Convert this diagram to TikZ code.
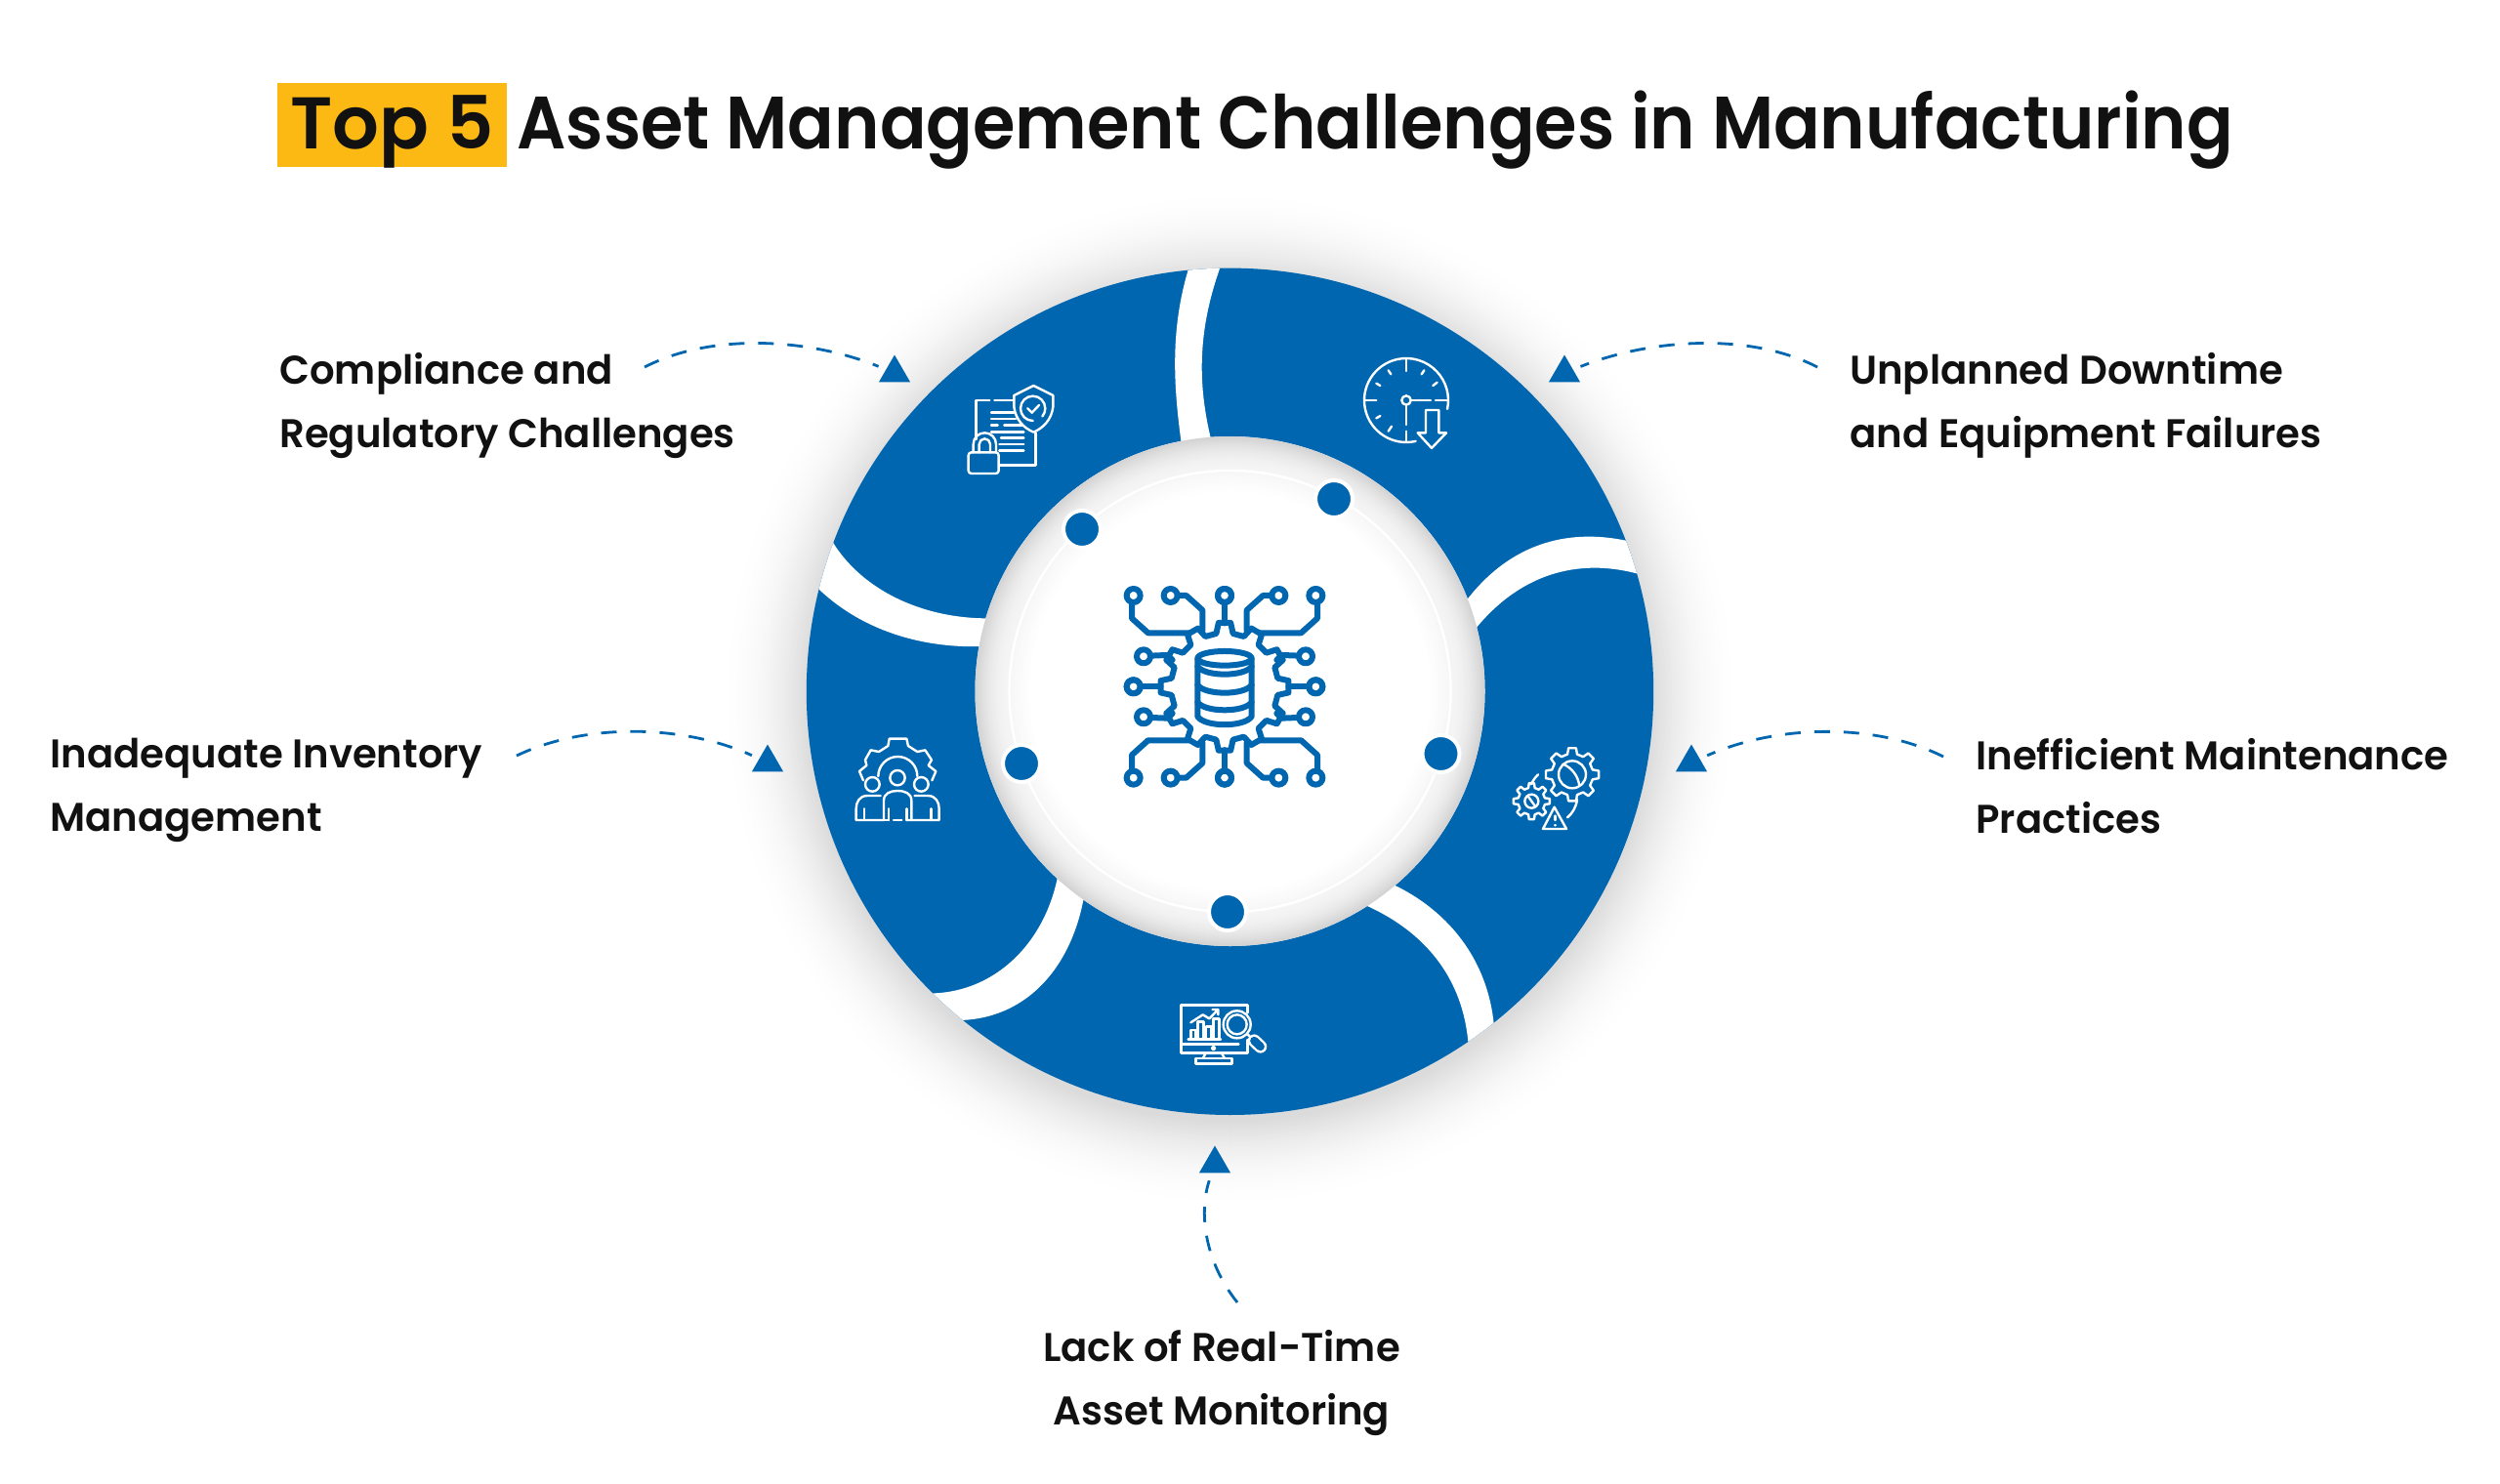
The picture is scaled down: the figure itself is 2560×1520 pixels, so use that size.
\documentclass[tikz,border=0pt]{standalone}
\usepackage{fontspec}
\usetikzlibrary{shapes.geometric,calc}
\setmainfont{Poppins}
\newfontfamily\titlefont{Poppins}[UprightFont=* SemiBold,FakeStretch=0.925]
\newfontfamily\tagfont{Poppins}[UprightFont=* SemiBold]
\newfontfamily\labelfont{Poppins}[UprightFont=* SemiBold,FakeStretch=0.98]
\definecolor{ringblue}{HTML}{0066AF}
\definecolor{tagyellow}{HTML}{FDB913}
\definecolor{inkblack}{HTML}{111111}
\tikzset{
  labeltext/.style={font=\labelfont\fontsize{20.5}{32.5}\selectfont,text=inkblack,inner sep=0pt,align=left},
  titletext/.style={font=\titlefont\fontsize{38}{46}\selectfont,text=inkblack,inner sep=0pt},
  tagtext/.style={font=\tagfont\fontsize{37.5}{46}\selectfont,text=inkblack,inner sep=0pt},
  tipmark/.style={regular polygon,regular polygon sides=3,fill=ringblue,minimum size=18.5pt,inner sep=0pt},
  dashline/.style={draw=ringblue,line width=1.4pt,dash pattern=on 8pt off 7pt,shorten >=4pt},
  rimdot/.style={circle,fill=ringblue,draw=white,line width=2pt,minimum size=19pt,inner sep=0pt},
  iconline/.style={draw=white,line width=1.2pt,line cap=round,line join=round},
  chipline/.style={draw=ringblue,line width=3pt,line cap=round,line join=round},
  swirl/.style={fill=white,draw=none},
}
% gear outline: centre x,y; outer, inner radius; teeth; style
\newcommand{\geartrace}[6]{%
  \begin{scope}[shift={(#1,#2)}]
    \pgfmathsetmacro{\gstep}{360/#5}
    \pgfmathtruncatemacro{\glast}{#5-1}
    \draw[#6] (-0.3*\gstep:#4)
      foreach \gi in {0,...,\glast} {
        -- ({\gi*\gstep-0.18*\gstep}:#3) -- ({\gi*\gstep+0.18*\gstep}:#3)
        -- ({\gi*\gstep+0.3*\gstep}:#4) -- ({\gi*\gstep+0.7*\gstep}:#4)
      } -- cycle;
  \end{scope}}
\begin{document}
\begin{tikzpicture}[x=0.5pt,y=-0.5pt]
\useasboundingbox (0,0) rectangle (2560,1520);
\fill[white] (0,0) rectangle (2560,1520);

% title
\fill[tagyellow] (284,85) rectangle (519,171);
\node[tagtext,anchor=base west] (toptag) at (297,153) {Top 5};
\node[titletext,anchor=base west] (titlerest) at (529,153) {Asset Management Challenges in Manufacturing};

% outer shadow
\foreach \rr in {90,88,...,0} {
  \pgfmathsetmacro{\shade}{14*(1-\rr/90)*(1-\rr/90)}
  \fill[black!\shade!white] (1259.5,716) circle ({433+\rr});
}
% ring
\fill[ringblue] (1259.5,708.3) circle (433.7);

% white swirls, in the coordinates of the ring crop
\begin{scope}
\clip (1259.5,708.3) circle (433.7);
\begin{scope}[shift={(800,250)},scale=0.5867]
\fill[swirl] (700,360) .. controls (686,260) and (675,150) .. (715,30) -- (770,30)
   .. controls (725,150) and (725,250) .. (755,360) -- cycle;
\fill[swirl] (1190,630) .. controls (1270,520) and (1380,490) .. (1500,524) -- (1510,580)
   .. controls (1400,545) and (1290,570) .. (1205,680) -- cycle;
\fill[swirl] (1050,1110) .. controls (1170,1160) and (1240,1260) .. (1245,1380) -- (1200,1410)
   .. controls (1195,1290) and (1130,1200) .. (1010,1150) -- cycle;
\fill[swirl] (485,1090) .. controls (465,1220) and (370,1312) .. (250,1308) -- (300,1355)
   .. controls (420,1358) and (508,1270) .. (530,1130) -- cycle;
\fill[swirl] (85,512) .. controls (140,610) and (260,658) .. (375,653) -- (360,702)
   .. controls (240,708) and (130,670) .. (55,592) -- cycle;
\end{scope}
\end{scope}

% inner disc with soft edge
\fill[white] (1259.5,708) circle (261);
\foreach \rr in {34,32,...,0} {
  \pgfmathsetmacro{\shade}{4+13*(\rr/34)*(\rr/34)}
  \fill[black!\shade!white] (1259.5,708) circle ({261-34+\rr});
}
\fill[black!3!white] (1259.5,708) circle (225);
\foreach \rr in {20,18,...,0} {
  \pgfmathsetmacro{\shade}{3*(\rr/20)}
  \fill[black!\shade!white] (1259.5,708) circle ({205+\rr});
}
\draw[white,line width=1.2pt] (1259.5,708) circle (226);

% rim dots
\node[rimdot] (dotA) at (1366,511) {};
\node[rimdot] (dotB) at (1108,542) {};
\node[rimdot] (dotC) at (1046,782) {};
\node[rimdot] (dotD) at (1257,934) {};
\node[rimdot] (dotE) at (1475.5,772) {};

% centre chip icon
\begin{scope}[shift={(1254,703.3)},scale=1/3]
 \foreach \sx/\sy in {1/1,-1/1,1/-1,-1/-1} {
  \begin{scope}[xscale=\sx,yscale=\sy]
   \draw[chipline] (110,-165) -- (235,-165) -- (285,-210) -- (285,-258);
   \draw[chipline] (280,-280) circle (21);
   \draw[chipline] (68,-172) -- (68,-235) -- (118,-280) -- (145,-280);
   \draw[chipline] (166,-280) circle (21);
   \draw[chipline] (160,-82) -- (175,-97) -- (228,-95);
   \draw[chipline] (249,-93) circle (21);
   \draw[chipline] (0,-195) -- (0,-258);
   \draw[chipline] (0,-280) circle (21);
   \draw[chipline] (197,0) -- (258,0);
   \draw[chipline] (280,0) circle (21);
  \end{scope}
 }
 \geartrace{0}{0}{197}{165}{12}{chipline}
 % database
 \draw[chipline] (0,-87) ellipse (83 and 22);
 \draw[chipline] (-83,-87) -- (-83,92) .. controls (-60,125) and (60,125) .. (83,92) -- (83,-87);
 \draw[chipline] (-83,-62) .. controls (-60,-30) and (60,-30) .. (83,-62);
 \draw[chipline] (-83,-5) .. controls (-60,27) and (60,27) .. (83,-5);
 \draw[chipline] (-83,48) .. controls (-60,80) and (60,80) .. (83,48);
\end{scope}

% compliance icon
\begin{scope}[shift={(960,360)},scale=1/3]
 \draw[iconline] (160,150) -- (118,150) -- (118,270);
 \draw[iconline] (175,150) -- (235,150);
 \draw[iconline] (302,250) -- (302,350) -- (190,350);
 \draw[iconline] (165,188) -- (235,188);
 \draw[iconline] (165,207) -- (240,207);
 \draw[iconline] (165,227) -- (185,227) (205,227) -- (260,227);
 \draw[iconline] (165,247) -- (265,247);
 \draw[iconline] (195,266) -- (265,266);
 \draw[iconline] (190,285) -- (265,285);
 \draw[iconline] (190,305) -- (265,305);
 \draw[iconline] (295,105) -- (355,135) -- (355,170) .. controls (350,210) and (325,235) .. (295,248)
    .. controls (265,235) and (240,210) .. (235,170) -- (235,135) -- cycle;
 \draw[iconline] (293,213) arc (90:400:38);
 \draw[iconline] (277,175) -- (290,188) -- (312,165);
 \draw[iconline,rounded corners=1.5pt] (95,310) rectangle (188,375);
 \draw[iconline] (110,310) -- (110,285) arc (180:360:35) -- (180,310);
 \draw[iconline] (128,310) -- (128,285) arc (180:360:17) -- (162,310);
\end{scope}

% clock icon
\begin{scope}[shift={(1380,340)},scale=1/3]
 \draw[iconline] (180,210) ++(77:129) arc (77:372:129);
 \draw[iconline] (180,85) -- (180,120) (52,210) -- (88,210) (270,210) -- (305,210) (180,305) -- (180,335);
 \draw[iconline] (125,118) -- (133,130) (235,118) -- (227,130) (88,158) -- (100,165)
    (275,155) -- (262,165) (88,265) -- (100,258) (125,305) -- (135,290);
 \draw[iconline] (180,210) circle (14);
 \draw[iconline] (195,210) -- (255,210) (180,225) -- (180,285);
 \draw[iconline] (240,240) -- (280,240) -- (280,310) -- (303,310) -- (258,357) -- (215,310) -- (240,310) -- cycle;
\end{scope}

% maintenance icon
\begin{scope}[shift={(1530,750)},scale=1/3]
 \geartrace{240}{130}{82}{64}{8}{iconline}
 \draw[iconline] (240,130) circle (42);
 \draw[iconline] (212,98) .. controls (240,110) and (258,135) .. (262,165);
 \geartrace{115}{212}{56}{42}{8}{iconline}
 \draw[iconline] (115,212) circle (21);
 \draw[iconline] (105,198) -- (125,226);
 \draw[iconline] (135,130) .. controls (125,140) and (118,150) .. (114,160);
 \draw[iconline] (225,262) .. controls (240,250) and (252,230) .. (255,207);
 \draw[iconline] (185,230) -- (222,297) -- (150,297) -- cycle;
 \draw[iconline] (187,257) -- (187,270) (187,285) -- (187,286);
\end{scope}

% monitoring icon
\begin{scope}[shift={(1190,1010)},scale=1/3]
 \draw[iconline] (262,82) -- (262,58) -- (58,58) -- (58,205) -- (262,205) -- (262,165);
 \draw[iconline] (58,178) -- (235,178);
 \draw[iconline] (158,191) circle (5);
 \draw[iconline] (135,205) -- (125,222) (182,205) -- (192,222);
 \draw[iconline] (103,222) rectangle (215,238);
 \draw[iconline] (88,160) -- (88,135) -- (103,135) -- (103,160);
 \draw[iconline] (110,160) -- (110,110) -- (128,110) -- (128,160);
 \draw[iconline] (135,160) -- (135,125) -- (152,125) -- (152,160);
 \draw[iconline] (158,160) -- (158,100) -- (175,100) -- (175,160);
 \draw[iconline] (80,163) -- (180,163);
 \draw[iconline] (88,112) -- (125,88) -- (145,100) -- (172,72) (155,72) -- (172,72) -- (172,88);
 \draw[iconline] (230,118) circle (42);
 \draw[iconline] (230,118) circle (30);
 \draw[iconline] (262,148) -- (275,160);
 \draw[draw=white,line width=6.6pt,line cap=round] (283,168) -- (302,186);
 \draw[draw=ringblue,line width=4.2pt,line cap=round] (283,168) -- (302,186);
\end{scope}

% people icon
\begin{scope}[shift={(860,740)},scale=1/3]
 \draw[iconline] (72,178) -- (60,150) -- (82,132) -- (78,115) -- (95,85) -- (120,90) -- (148,72) -- (152,50)
    -- (205,50) -- (210,72) -- (238,90) -- (262,85) -- (282,115) -- (272,132) -- (295,150) -- (283,178);
 \draw[iconline] (118,165) arc (180:360:60);
 \draw[iconline] (177,170) circle (23);
 \draw[iconline] (100,190) circle (22);
 \draw[iconline] (250,190) circle (22);
 \draw[iconline] (135,300) -- (135,240) .. controls (135,218) and (155,210) .. (177,210)
    .. controls (200,210) and (220,218) .. (220,240) -- (220,300) -- (205,300);
 \draw[iconline] (135,300) -- (150,300) (165,300) -- (190,300);
 \draw[iconline] (150,265) -- (150,300) (205,265) -- (205,300);
 \draw[iconline] (125,225) -- (85,225) .. controls (60,225) and (50,245) .. (50,265) -- (50,300) -- (135,300);
 \draw[iconline] (75,265) -- (75,300);
 \draw[iconline] (230,225) -- (270,225) .. controls (295,225) and (305,245) .. (305,265) -- (305,300) -- (220,300);
 \draw[iconline] (280,265) -- (280,300);
\end{scope}

% labels
\node[labeltext,anchor=north west] (lblcomp) at (286,361) {Compliance and\\Regulatory Challenges};
\node[labeltext,anchor=north west] (lblplan) at (1894,361) {Unplanned Downtime\\and Equipment Failures};
\node[labeltext,anchor=north west] (lblmain) at (2023,756) {Inefficient Maintenance\\Practices};
\node[labeltext,anchor=north west] (lblinv) at (51,756) {Inadequate Inventory\\Management};
\node[labeltext,anchor=north,align=center] (lblreal) at (1251,1362) {Lack of Real-Time\\Asset Monitoring};

% connectors
\node[tipmark] (tipcomp) at (916,382) {};
\node[tipmark] (tipplan) at (1602,382) {};
\node[tipmark] (tipmain) at (1732,781) {};
\node[tipmark] (tipinv) at (786,781) {};
\node[tipmark] (tipreal) at (1244,1192) {};
\coordinate (tailcomp) at (660,376);
\coordinate (tailplan) at (1861,376);
\coordinate (tailmain) at (1990,775);
\coordinate (tailinv) at (529,774);
\coordinate (tailreal) at (1267,1334);
\draw[dashline] (tailcomp) .. controls (730,340) and (830,347) .. (tipcomp);
\draw[dashline] (tailplan) .. controls (1791,340) and (1690,347) .. (tipplan);
\draw[dashline] (tailmain) .. controls (1920,740) and (1820,742) .. (tipmain);
\draw[dashline] (tailinv) .. controls (600,740) and (700,742) .. (tipinv);
\draw[dashline] (tailreal) .. controls (1232,1290) and (1228,1240) .. (tipreal);
\end{tikzpicture}
\end{document}
